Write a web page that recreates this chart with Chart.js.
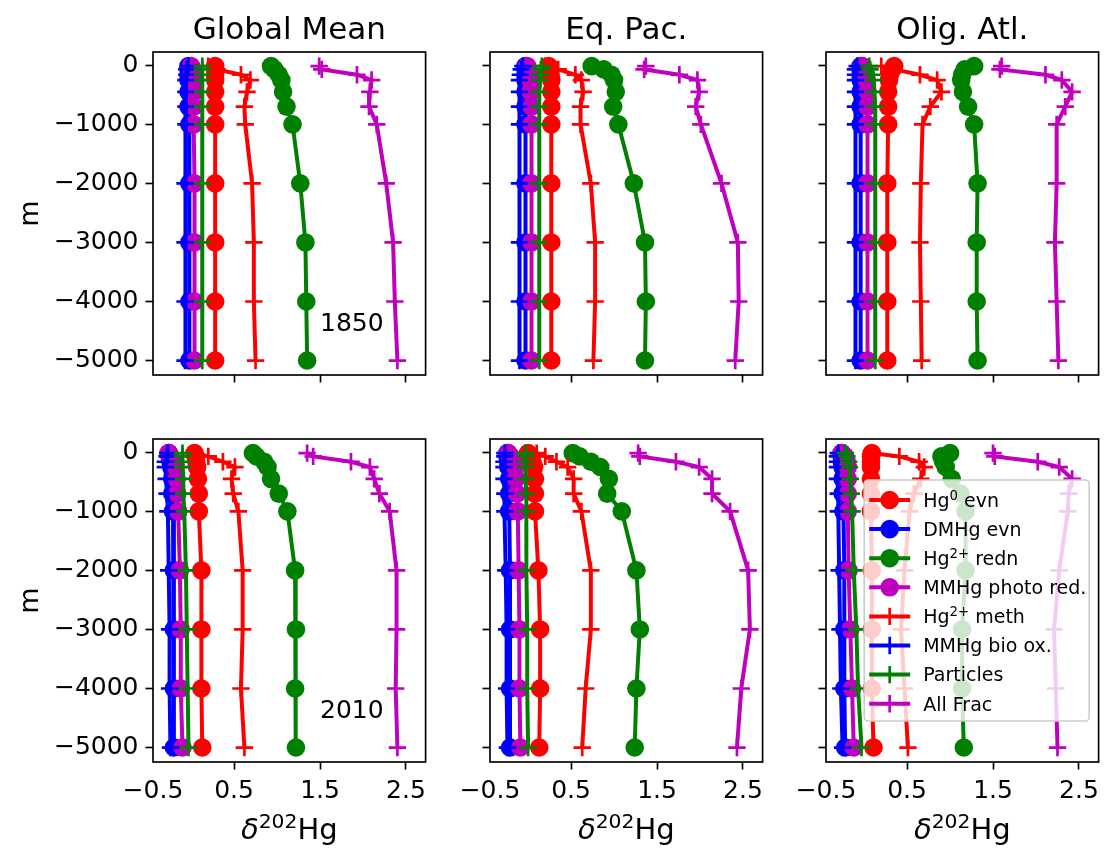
<!DOCTYPE html>
<html>
<head>
<meta charset="utf-8">
<script src="https://cdn.jsdelivr.net/npm/chart.js@4.4.1/dist/chart.umd.min.js"></script>
<style>
  html, body { margin: 0; padding: 0; background: #fff; }
  #fig { position: relative; width: 1110px; height: 854px; overflow: hidden; }
  #fig canvas { position: absolute; }
</style>
</head>
<body>
<div id="fig"></div>
<script>
// depth levels (m) shared by every profile
const depths = [-15, -70, -160, -250, -450, -700, -1000, -2000, -3000, -4000, -5000];

const xTicks = [-0.5, 0.5, 1.5, 2.5];
const xTickLabels = ["−0.5", "0.5", "1.5", "2.5"];
const yTicks = [0, -1000, -2000, -3000, -4000, -5000];
const yTickLabels = ["0", "−1000", "−2000", "−3000", "−4000", "−5000"];

const regions = ["Global Mean", "Eq. Pac.", "Olig. Atl."];
const years = ["1850", "2010"];
const yearPos = [1.5, -4500];

const seriesNames = ["Hg⁰ evn", "DMHg evn", "Hg²⁺ redn", "MMHg photo red.", "Hg²⁺ meth", "MMHg bio ox.", "Particles", "All Frac"];
const seriesColors = ["#ff0000", "#0000ff", "#008000", "#bf00bf", "#ff0000", "#0000ff", "#008000", "#bf00bf"];
const seriesMarkers = ["circle", "circle", "circle", "circle", "cross", "cross", "cross", "cross"];

// one row per series (same order as seriesNames), one value per depth
const globalMean1850 = [
  [0.28, 0.28, 0.28, 0.28, 0.28, 0.28, 0.28, 0.28, 0.28, 0.28, 0.28],
  [-0.03, -0.03, -0.03, -0.03, -0.03, -0.03, -0.02, -0.02, -0.02, -0.02, -0.02],
  [0.93, 0.97, 1.02, 1.05, 1.07, 1.11, 1.18, 1.27, 1.33, 1.34, 1.35],
  [0.0, 0.01, 0.02, 0.03, 0.03, 0.03, 0.03, 0.04, 0.04, 0.04, 0.04],
  [0.2, 0.3, 0.58, 0.69, 0.65, 0.62, 0.63, 0.71, 0.73, 0.73, 0.75],
  [-0.03, -0.05, -0.05, -0.06, -0.06, -0.06, -0.06, -0.07, -0.07, -0.07, -0.07],
  [0.13, 0.13, 0.13, 0.13, 0.13, 0.13, 0.13, 0.13, 0.13, 0.13, 0.13],
  [1.49, 1.52, 1.93, 2.10, 2.08, 2.07, 2.16, 2.27, 2.35, 2.37, 2.40],
];
const eqPac1850 = [
  [0.24, 0.25, 0.26, 0.27, 0.27, 0.27, 0.27, 0.27, 0.27, 0.27, 0.27],
  [-0.03, -0.03, -0.03, -0.03, -0.03, -0.03, -0.03, -0.03, -0.03, -0.03, -0.03],
  [0.74, 0.88, 0.97, 1.0, 1.02, 0.99, 1.05, 1.23, 1.36, 1.37, 1.36],
  [-0.01, 0.0, 0.02, 0.03, 0.03, 0.04, 0.04, 0.04, 0.04, 0.04, 0.04],
  [0.2, 0.35, 0.55, 0.62, 0.64, 0.61, 0.61, 0.73, 0.78, 0.78, 0.76],
  [-0.06, -0.08, -0.09, -0.1, -0.1, -0.1, -0.1, -0.1, -0.1, -0.1, -0.1],
  [0.16, 0.15, 0.14, 0.14, 0.13, 0.13, 0.13, 0.13, 0.13, 0.13, 0.13],
  [1.37, 1.35, 1.76, 1.97, 1.99, 1.95, 2.01, 2.25, 2.44, 2.45, 2.41],
];
const oligAtl1850 = [
  [0.35, 0.33, 0.30, 0.29, 0.28, 0.28, 0.28, 0.27, 0.27, 0.27, 0.27],
  [-0.04, -0.04, -0.04, -0.04, -0.04, -0.04, -0.04, -0.04, -0.04, -0.04, -0.04],
  [1.28, 1.17, 1.14, 1.13, 1.15, 1.21, 1.28, 1.32, 1.31, 1.31, 1.32],
  [-0.02, 0.0, 0.02, 0.03, 0.04, 0.04, 0.04, 0.04, 0.04, 0.04, 0.04],
  [0.2, 0.35, 0.65, 0.85, 0.9, 0.77, 0.68, 0.66, 0.65, 0.66, 0.67],
  [-0.08, -0.1, -0.1, -0.1, -0.1, -0.1, -0.1, -0.1, -0.1, -0.1, -0.1],
  [0.06, 0.07, 0.09, 0.11, 0.12, 0.13, 0.13, 0.13, 0.13, 0.13, 0.13],
  [1.6, 1.58, 2.11, 2.3, 2.42, 2.34, 2.24, 2.24, 2.22, 2.24, 2.26],
];
const globalMean2010 = [
  [0.04, 0.05, 0.06, 0.07, 0.08, 0.09, 0.09, 0.12, 0.12, 0.12, 0.13],
  [-0.26, -0.25, -0.24, -0.23, -0.22, -0.22, -0.21, -0.2, -0.2, -0.2, -0.2],
  [0.72, 0.76, 0.85, 0.89, 0.93, 1.02, 1.12, 1.21, 1.22, 1.21, 1.22],
  [-0.26, -0.24, -0.2, -0.18, -0.17, -0.16, -0.15, -0.13, -0.12, -0.12, -0.1],
  [0.05, 0.2, 0.37, 0.51, 0.47, 0.49, 0.55, 0.6, 0.6, 0.58, 0.62],
  [-0.27, -0.28, -0.3, -0.3, -0.29, -0.28, -0.27, -0.26, -0.25, -0.25, -0.24],
  [-0.1, -0.1, -0.1, -0.1, -0.09, -0.09, -0.08, -0.06, -0.05, -0.04, -0.03],
  [1.35, 1.42, 1.86, 2.08, 2.13, 2.19, 2.31, 2.39, 2.39, 2.38, 2.40],
];
const eqPac2010 = [
  [0.0, 0.03, 0.05, 0.07, 0.08, 0.08, 0.08, 0.12, 0.14, 0.14, 0.13],
  [-0.24, -0.24, -0.23, -0.23, -0.22, -0.22, -0.22, -0.21, -0.21, -0.21, -0.21],
  [0.52, 0.6, 0.73, 0.84, 0.94, 0.92, 1.09, 1.26, 1.30, 1.26, 1.24],
  [-0.23, -0.2, -0.17, -0.15, -0.14, -0.13, -0.12, -0.11, -0.1, -0.1, -0.09],
  [0.1, 0.2, 0.33, 0.46, 0.53, 0.53, 0.62, 0.73, 0.73, 0.67, 0.63],
  [-0.27, -0.27, -0.28, -0.28, -0.28, -0.27, -0.27, -0.26, -0.25, -0.25, -0.24],
  [-0.03, -0.03, -0.03, -0.03, -0.03, -0.02, -0.02, -0.02, -0.01, -0.01, 0.0],
  [1.28, 1.30, 1.72, 1.99, 2.14, 2.14, 2.35, 2.56, 2.58, 2.48, 2.43],
];
const oligAtl2010 = [
  [0.09, 0.08, 0.08, 0.08, 0.08, 0.08, 0.08, 0.09, 0.09, 0.09, 0.11],
  [-0.26, -0.26, -0.26, -0.25, -0.25, -0.25, -0.24, -0.23, -0.23, -0.23, -0.22],
  [1.0, 0.9, 0.92, 0.95, 1.02, 1.12, 1.18, 1.18, 1.14, 1.14, 1.16],
  [-0.26, -0.22, -0.2, -0.19, -0.19, -0.19, -0.19, -0.18, -0.16, -0.14, -0.12],
  [0.1, 0.41, 0.64, 0.70, 0.66, 0.58, 0.53, 0.47, 0.43, 0.47, 0.51],
  [-0.3, -0.31, -0.31, -0.31, -0.31, -0.3, -0.3, -0.29, -0.28, -0.27, -0.25],
  [-0.22, -0.2, -0.18, -0.17, -0.16, -0.15, -0.14, -0.12, -0.09, -0.07, -0.03],
  [1.5, 1.52, 2.02, 2.27, 2.42, 2.38, 2.37, 2.27, 2.21, 2.23, 2.25],
];

const panelData = [
  [globalMean1850, eqPac1850, oligAtl1850],
  [globalMean2010, eqPac2010, oligAtl2010],
];

// figure geometry
const xMin = -0.443, xMax = 2.728;
const yMin = -5245, yMax = 225;
const colLeft = [153, 490, 826];
const rowTop = [52, 439];
const areaW = 280, areaH = 323;
const FONT = '"DejaVu Sans", sans-serif';
const LINE_W = 4;
const CIRCLE_R = 9.3;
const CROSS_R = 8.7;
const CROSS_W = 2.7;

Chart.defaults.font.family = FONT;
Chart.defaults.color = "#000";

const supMap = { "⁰": "0", "¹": "1", "²": "2", "³": "3", "⁺": "+" };

// text with superscripts and an italic delta, like matplotlib mathtext
function drawRich(ctx, text, x, y, size, align) {
  const runs = [];
  for (const ch of text) {
    const sup = ch in supMap;
    const it = ch === "δ";
    const c = sup ? supMap[ch] : ch;
    const last = runs[runs.length - 1];
    if (last && last.sup === sup && last.it === it) last.t += c;
    else runs.push({ t: c, sup, it });
  }
  const fontFor = (r) => `${r.it ? "italic " : ""}${r.sup ? size * 0.7 : size}px ${FONT}`;
  let w = 0;
  runs.forEach((r) => {
    ctx.font = fontFor(r);
    r.w = ctx.measureText(r.t).width;
    w += r.w;
  });
  let cx = align === "center" ? x - w / 2 : x;
  ctx.textAlign = "left";
  ctx.textBaseline = "alphabetic";
  runs.forEach((r) => {
    ctx.font = fontFor(r);
    ctx.fillText(r.t, cx, r.sup ? y - size * 0.38 : y);
    cx += r.w;
  });
}

function drawMarker(ctx, kind, x, y, color) {
  ctx.fillStyle = color;
  ctx.strokeStyle = color;
  if (kind === "circle") {
    ctx.beginPath();
    ctx.arc(x, y, CIRCLE_R, 0, Math.PI * 2);
    ctx.fill();
  } else {
    ctx.lineWidth = CROSS_W;
    ctx.beginPath();
    ctx.moveTo(x - CROSS_R, y); ctx.lineTo(x + CROSS_R, y);
    ctx.moveTo(x, y - CROSS_R); ctx.lineTo(x, y + CROSS_R);
    ctx.stroke();
  }
}

function drawLegend(ctx, a) {
  const fs = 19, rowH = 29.1, boxW = 225, boxH = 241;
  const bx = a.right - 9.4 - boxW;
  const by = (a.top + a.bottom) / 2 - boxH / 2;
  ctx.save();
  ctx.beginPath();
  ctx.roundRect(bx, by, boxW, boxH, 4);
  ctx.fillStyle = "rgba(255,255,255,0.8)";
  ctx.fill();
  ctx.strokeStyle = "#cccccc";
  ctx.lineWidth = 1.6;
  ctx.stroke();
  seriesNames.forEach((name, i) => {
    const cy = by + 20 + i * rowH;
    ctx.strokeStyle = seriesColors[i];
    ctx.lineWidth = LINE_W;
    ctx.beginPath();
    ctx.moveTo(bx + 5, cy);
    ctx.lineTo(bx + 46, cy);
    ctx.stroke();
    drawMarker(ctx, seriesMarkers[i], bx + 25.5, cy, seriesColors[i]);
    ctx.fillStyle = "#000";
    drawRich(ctx, name, bx + 59, cy + fs * 0.36, fs, "left");
  });
  ctx.restore();
}

const decorPlugin = {
  id: "decor",
  afterDatasetsDraw(chart, args, o) {
    const { ctx, chartArea: a } = chart;
    ctx.save();
    ctx.strokeStyle = "#000";
    ctx.lineWidth = 1.67;
    ctx.strokeRect(a.left, a.top, a.right - a.left, a.bottom - a.top);
    ctx.fillStyle = "#000";
    const cx = (a.left + a.right) / 2;
    if (o.row === 0) {
      ctx.font = `31px ${FONT}`;
      ctx.textAlign = "center";
      ctx.textBaseline = "alphabetic";
      ctx.fillText(regions[o.col], cx, a.top - 13);
    } else {
      drawRich(ctx, "δ²⁰²Hg", cx, a.bottom + 77, 29, "center");
    }
    if (o.col === 0) {
      ctx.font = `25px ${FONT}`;
      ctx.textAlign = "left";
      ctx.textBaseline = "alphabetic";
      ctx.fillText(years[o.row], chart.scales.x.getPixelForValue(yearPos[0]), chart.scales.y.getPixelForValue(yearPos[1]));
      ctx.save();
      ctx.font = `27px ${FONT}`;
      ctx.translate(38, (a.top + a.bottom) / 2);
      ctx.rotate(-Math.PI / 2);
      ctx.textAlign = "center";
      ctx.fillText("m", 0, 0);
      ctx.restore();
    }
    if (o.legend) drawLegend(ctx, a);
    ctx.restore();
  },
};

function makePanel(row, col) {
  const values = panelData[row][col];
  const padL = col === 0 ? 153 : 60;
  const padR = 4;
  const padT = row === 0 ? 52 : 60;
  const padB = row === 0 ? 60 : 92;
  const canvas = document.createElement("canvas");
  const w = areaW + padL + padR;
  const h = areaH + padT + padB;
  canvas.width = w;
  canvas.height = h;
  canvas.style.width = w + "px";
  canvas.style.height = h + "px";
  canvas.style.left = colLeft[col] - padL + "px";
  canvas.style.top = rowTop[row] - padT + "px";
  document.getElementById("fig").appendChild(canvas);

  const tickGrid = {
    drawOnChartArea: false,
    drawTicks: true,
    tickLength: 7.5,
    tickWidth: 1.67,
  };

  new Chart(canvas.getContext("2d"), {
    type: "scatter",
    data: {
      datasets: seriesNames.map((name, i) => ({
        label: name,
        data: depths.map((d, k) => ({ x: values[i][k], y: d })),
        showLine: true,
        tension: 0,
        borderColor: seriesColors[i],
        backgroundColor: seriesColors[i],
        borderWidth: LINE_W,
        pointStyle: seriesMarkers[i],
        pointRadius: seriesMarkers[i] === "cross" ? CROSS_R : CIRCLE_R,
        pointHoverRadius: seriesMarkers[i] === "cross" ? CROSS_R : CIRCLE_R,
        pointBackgroundColor: seriesColors[i],
        pointBorderColor: seriesColors[i],
        pointBorderWidth: seriesMarkers[i] === "cross" ? CROSS_W : 0,
        order: -i,
      })),
    },
    options: {
      responsive: false,
      animation: false,
      devicePixelRatio: 1,
      layout: { padding: { left: 0, right: padR, top: padT, bottom: 0 } },
      plugins: {
        legend: { display: false },
        tooltip: { enabled: false },
        decor: { row, col, legend: row === 1 && col === 2 },
      },
      scales: {
        x: {
          type: "linear",
          min: xMin,
          max: xMax,
          // the first label sits on the left spine, as in the original figure
          afterBuildTicks: (s) => { s.ticks = xTicks.map((v) => ({ value: Math.max(v, xMin), label: v })); },
          afterFit: (s) => { s.height = padB; },
          ticks: {
            display: row === 1,
            autoSkip: false,
            maxRotation: 0,
            padding: 7,
            font: { size: 25 },
            color: "#000",
            callback: (v, i) => xTickLabels[i],
          },
          grid: {
            ...tickGrid,
            tickColor: (c) => (c.index === 0 ? "rgba(0,0,0,0)" : "#000"),
          },
          border: { display: false },
        },
        y: {
          type: "linear",
          min: yMin,
          max: yMax,
          afterBuildTicks: (s) => { s.ticks = yTicks.map((v) => ({ value: v })); },
          afterFit: (s) => { s.width = padL; },
          ticks: {
            display: col === 0,
            autoSkip: false,
            padding: 7,
            font: { size: 25 },
            color: "#000",
            callback: (v) => yTickLabels[yTicks.indexOf(v)],
          },
          grid: { ...tickGrid, tickColor: "#000" },
          border: { display: false },
        },
      },
    },
    plugins: [decorPlugin],
  });
}

for (let row = 0; row < 2; row++) {
  for (let col = 0; col < 3; col++) makePanel(row, col);
}
</script>
</body>
</html>
